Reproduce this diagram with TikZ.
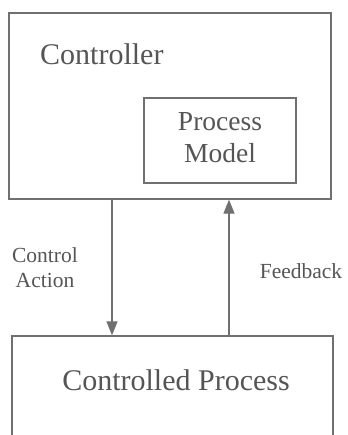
\documentclass[tikz,border=0pt]{standalone}
\usepackage{fontspec}
\setmainfont{Liberation Serif}
\usetikzlibrary{arrows.meta}
\definecolor{txtgray}{HTML}{555555}
\definecolor{linegray}{HTML}{707070}
\tikzset{
  boxstyle/.style={draw=linegray, line width=1.3pt, rectangle, inner sep=0pt},
  bigtext/.style={text=txtgray, font=\fontsize{30}{34}\selectfont, inner sep=0pt},
  midtext/.style={text=txtgray, font=\fontsize{27.5}{32}\selectfont, inner sep=0pt, align=center},
  smalltext/.style={text=txtgray, font=\fontsize{21.5}{25}\selectfont, inner sep=0pt, align=center},
  arr/.style={draw=linegray, line width=1.3pt, -{Triangle[length=14pt,width=11pt]}}
}
\begin{document}
\begin{tikzpicture}[x=1pt,y=-1pt]
\useasboundingbox (0,0) rectangle (347,435);
\clip (0,0) rectangle (347,435);
\fill[white] (0,0) rectangle (347,435);
% boxes
\node[boxstyle, minimum width=322pt, minimum height=186pt] (ctrl) at (170,106) {};
\node[boxstyle, minimum width=152pt, minimum height=85pt] (pm) at (220,140.5) {};
\node[boxstyle, minimum width=321pt, minimum height=140pt] (proc) at (172.5,406) {};
% texts
\node[bigtext, anchor=base west] (ctrltxt) at (40,65) {Controller};
\node[midtext, anchor=base] (pmtxt1) at (220,131) {Process};
\node[midtext, anchor=base] (pmtxt2) at (220,163) {Model};
\node[bigtext, anchor=base] (proctxt) at (176,390) {Controlled Process};
\node[smalltext, anchor=base] (catxt1) at (45,262) {Control};
\node[smalltext, anchor=base] (catxt2) at (45,287) {Action};
\node[smalltext, anchor=base] (fbtxt) at (301,278) {Feedback};
% connectors
\coordinate (cax) at (112,0);
\coordinate (fbx) at (229,0);
\draw[arr] (cax |- ctrl.south) -- (cax |- proc.north);
\draw[arr] (fbx |- proc.north) -- (fbx |- ctrl.south);
\end{tikzpicture}
\end{document}
